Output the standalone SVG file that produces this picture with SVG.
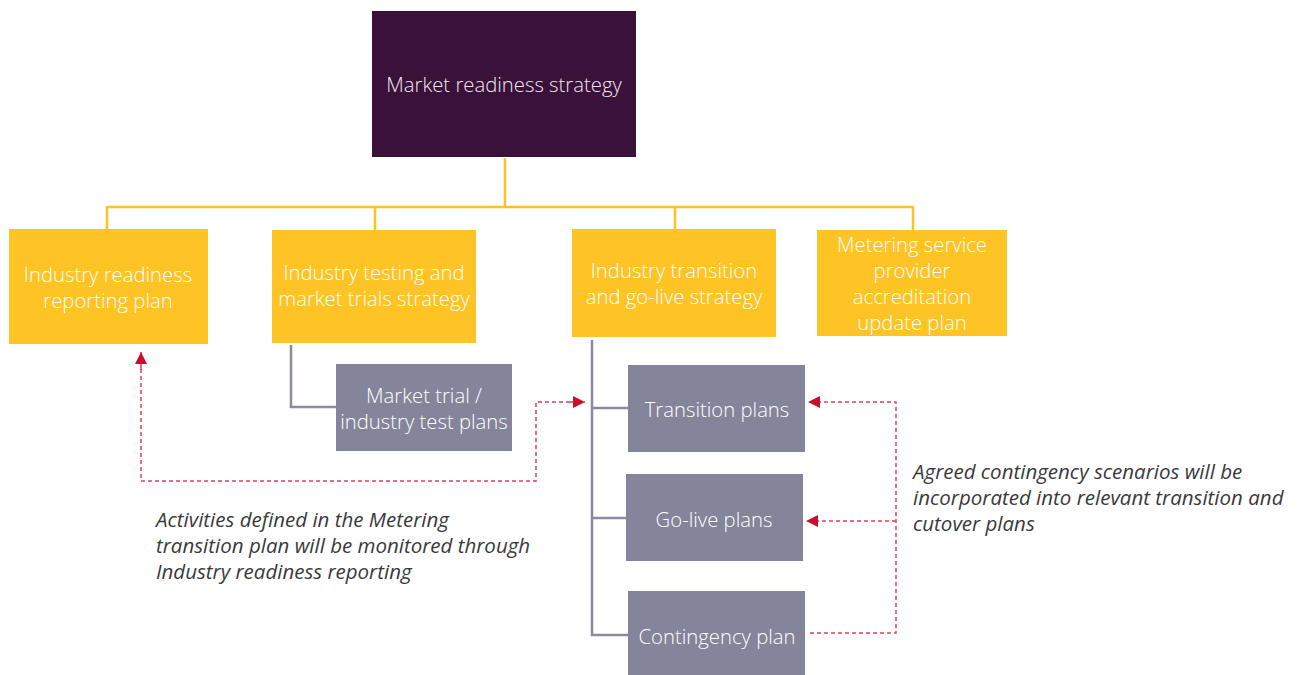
<svg xmlns="http://www.w3.org/2000/svg" width="1300" height="675" viewBox="0 0 1300 675">
<defs>
<style>
.lbl{font-family:"Open Sans","Noto Sans","Liberation Sans",sans-serif;font-size:20.3px;fill:#ffffff;text-anchor:middle;font-weight:300}
.note{font-family:"Open Sans","Noto Sans","Liberation Sans",sans-serif;font-size:20.5px;fill:#3a3a3a;font-style:italic}
.yel{fill:#fec324}
.gry{fill:#84849b}
.ybus{stroke:#fec324;stroke-width:2.5;fill:none}
.gbus{stroke:#8a8aa0;stroke-width:2.5;fill:none}
.dash{stroke:#e0405e;stroke-width:1.5;stroke-dasharray:4,3;fill:none}
</style>
<marker id="ah" viewBox="0 0 10 10" refX="10" refY="5" markerWidth="12" markerHeight="12" markerUnits="userSpaceOnUse" orient="auto">
<path d="M0,0 L10,5 L0,10 z" fill="#c8102e"/>
</marker>
</defs>
<rect width="1300" height="675" fill="#ffffff"/>

<g id="connectors">
<path class="ybus" d="M505,158 V207 M107,207 H913 M107,206 V229 M375,206 V230 M675,206 V229 M913,206 V230"/>
<path class="gbus" d="M291,345 V407 H336"/>
<path class="gbus" d="M592,340 V635 H628 M592,408 H628 M592,518 H626"/>
<path class="dash" d="M141,362 V481 H536 V402 H574"/>
<path class="dash" d="M141,370 V352" marker-end="url(#ah)"/>
<path class="dash" d="M570,402 H585" marker-end="url(#ah)"/>
<path class="dash" d="M810,633 H896 V402 H808" marker-end="url(#ah)"/>
<path class="dash" d="M896,521 H806" marker-end="url(#ah)"/>
</g>

<g id="n-market-readiness">
<rect x="372" y="11" width="264" height="146" fill="#3a1139"/>
<text class="lbl" x="504" y="92" style="fill:#f0e8f0">Market readiness strategy</text>
</g>

<g id="n-industry-readiness">
<rect class="yel" x="9" y="229" width="199" height="115"/>
<text class="lbl" x="108" y="282">Industry readiness</text>
<text class="lbl" x="108" y="308">reporting plan</text>
</g>

<g id="n-industry-testing">
<rect class="yel" x="272" y="230" width="204" height="113"/>
<text class="lbl" x="374" y="280">Industry testing and</text>
<text class="lbl" x="374" y="306">market trials strategy</text>
</g>

<g id="n-industry-transition">
<rect class="yel" x="572" y="229" width="204" height="108"/>
<text class="lbl" x="674" y="278">Industry transition</text>
<text class="lbl" x="674" y="304">and go-live strategy</text>
</g>

<g id="n-metering">
<rect class="yel" x="817" y="230" width="190" height="106"/>
<text class="lbl" x="912" y="252">Metering service</text>
<text class="lbl" x="912" y="278">provider</text>
<text class="lbl" x="912" y="304">accreditation</text>
<text class="lbl" x="912" y="330">update plan</text>
</g>

<g id="n-market-trial">
<rect class="gry" x="336" y="364" width="176" height="87"/>
<text class="lbl" x="424" y="403">Market trial /</text>
<text class="lbl" x="424" y="429">industry test plans</text>
</g>

<g id="n-transition-plans">
<rect class="gry" x="628" y="365" width="177" height="87"/>
<text class="lbl" x="717" y="417">Transition plans</text>
</g>

<g id="n-golive-plans">
<rect class="gry" x="626" y="474" width="177" height="87"/>
<text class="lbl" x="714" y="527">Go-live plans</text>
</g>

<g id="n-contingency-plan">
<rect class="gry" x="628" y="591" width="177" height="90"/>
<text class="lbl" x="717" y="644">Contingency plan</text>
</g>

<g id="notes">
<text class="note" x="156" y="527">Activities defined in the Metering</text>
<text class="note" x="156" y="553">transition plan will be monitored through</text>
<text class="note" x="156" y="579">Industry readiness reporting</text>
<text class="note" x="913" y="479">Agreed contingency scenarios will be</text>
<text class="note" x="913" y="505">incorporated into relevant transition and</text>
<text class="note" x="913" y="531">cutover plans</text>
</g>
</svg>
